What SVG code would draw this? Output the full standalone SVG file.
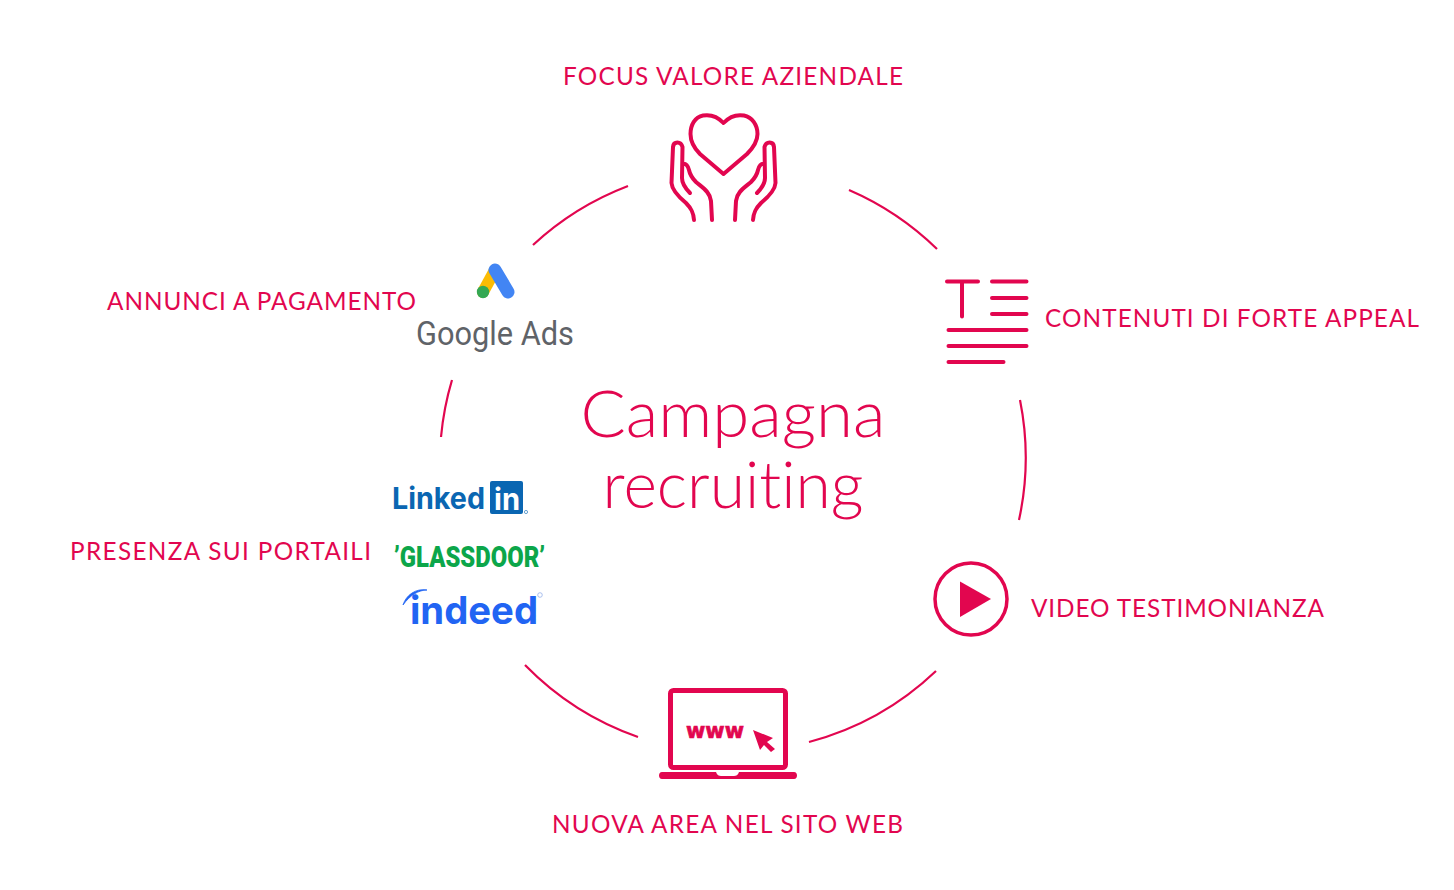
<svg xmlns="http://www.w3.org/2000/svg" width="1454" height="890" viewBox="0 0 1454 890">
<style>
.l{font-family:"Lato","Liberation Sans",sans-serif;font-size:24.3px;fill:#e2064f;font-variant-ligatures:none}
.t{font-family:"Lato","Liberation Sans",sans-serif;font-weight:300;font-size:65px;fill:#e2064f;font-variant-ligatures:none}
.s{fill:none;stroke:#e2064f;stroke-linecap:round;stroke-linejoin:round}
.f{fill:#e2064f}
</style>
<rect width="1454" height="890" fill="#fff"/>
<g id="connectors" fill="none" stroke="#e2064f" stroke-width="2.200">
<path d="M533 245A293 293 0 0 1 628 186"/>
<path d="M849 190A293 293 0 0 1 937 249"/>
<path d="M1020 400A293 293 0 0 1 1019 520"/>
<path d="M936 671A293 293 0 0 1 809 742"/>
<path d="M638 737A293 293 0 0 1 525 665"/>
<path d="M441 437A293 293 0 0 1 452 380"/>
</g>
<g id="center"><text class="t" x="733" y="437" text-anchor="middle" textLength="305" lengthAdjust="spacingAndGlyphs">Campagna</text>
<text class="t" x="733" y="508" text-anchor="middle" textLength="261" lengthAdjust="spacingAndGlyphs">recruiting</text></g>
<g id="focus">
<text class="l" x="563" y="85" textLength="340" lengthAdjust="spacing">FOCUS VALORE AZIENDALE</text>
<path class="s" stroke-width="4" d="M723.5 123C717 116 709 114.500 703 115.500C695 117 690.500 125 690.500 134C690.500 142 695 149 700 154L723.500 174L747 154C752 149 757.500 142 757.500 134C757.500 125 752 117 744 115.500C738 114.500 730 116 723.500 123Z"/>
<path class="s" stroke-width="4" d="M694 220C693.500 212 691 208 686 203C680 198 672 191 671.500 183L673 147C673.500 141 681 141 682.500 147L682 178C682 184 686 189 690 193M682.500 164C686 163 688 166 689 170C690 175 692 178 696 182C703 188 710 192 711 201L712 220"/>
<path class="s" stroke-width="4" d="M753 220C753.500 212 756 208 761 203C767 198 775 191 775.500 183L774 147C773.500 141 766 141 764.500 147L765 178C765 184 761 189 757 193M764.500 164C761 163 759 166 758 170C757 175 755 178 751 182C744 188 737 192 736 201L735 220"/>
</g>
<g id="contenuti">
<text class="l" x="1045" y="327" textLength="374" lengthAdjust="spacing">CONTENUTI DI FORTE APPEAL</text>
<path class="s" stroke-width="4" d="M947 281.500H978M962 281.500V316.500M992 281.500H1026.500M992 298H1026.500M992 314H1026.500M948.500 330H1026.500M948.500 346H1026.500M948.500 362H1003.500"/>
</g>
<g id="video">
<text class="l" x="1031" y="617" textLength="293" lengthAdjust="spacing">VIDEO TESTIMONIANZA</text>
<circle class="s" cx="971" cy="599" r="36" stroke-width="3.500"/>
<path class="f" d="M960 581.500V617L991 599Z"/>
</g>
<g id="sito">
<text class="l" x="552" y="833" textLength="351" lengthAdjust="spacing">NUOVA AREA NEL SITO WEB</text>
<rect x="670.500" y="690.500" width="115" height="77" rx="3" fill="none" stroke="#e2064f" stroke-width="5"/>
<path class="f" d="M662 772H716C717 775 719 776 721 776H734C736 776 738 775 739 772H794C798 772 798 779 794 779H662C658 779 658 772 662 772Z"/>
<text x="686" y="738" font-family="DejaVu Sans,sans-serif" font-weight="700" font-size="21" fill="#e2064f" stroke="#e2064f" stroke-width=".7" textLength="58" lengthAdjust="spacingAndGlyphs">www</text>
<path class="f" d="M753 730L773 738L767 742L775 749L771 752L764 745L760 750Z"/>
</g>
<g id="portali">
<text class="l" x="70" y="560" textLength="301" lengthAdjust="spacing">PRESENZA SUI PORTAILI</text>
<text x="392" y="508.500" font-family="Inter,sans-serif" font-weight="700" font-size="30" fill="#0a66b2" textLength="93" lengthAdjust="spacingAndGlyphs">Linked</text>
<rect x="490" y="481" width="33" height="33" rx="2" fill="#0a66b2"/>
<text x="494" y="510" font-family="Inter,sans-serif" font-weight="700" font-size="30" fill="#fff" textLength="26" lengthAdjust="spacingAndGlyphs">in</text>
<circle cx="526" cy="512" r="1.600" fill="none" stroke="#0a66b2" stroke-width=".6"/>
<text x="394" y="567" font-family="Roboto,sans-serif" font-weight="900" font-size="29.500" fill="#0ca64a" textLength="151" lengthAdjust="spacingAndGlyphs">’GLASSDOOR’</text>
<text x="410" y="624" font-family="Inter,sans-serif" font-weight="700" font-size="38" fill="#2164f3" textLength="128" lengthAdjust="spacingAndGlyphs">indeed</text>
<path d="M403 605C406 595 416 588 427 590C419 590 410 595 403 605Z" fill="#2164f3" stroke="#2164f3" stroke-width=".8"/>
<circle cx="540" cy="595" r="2.300" fill="none" stroke="#8aa8e8" stroke-width=".7"/>
</g>
<g id="annunci">
<text class="l" x="107" y="310" textLength="309" lengthAdjust="spacing">ANNUNCI A PAGAMENTO</text>
<path d="M495 270L483 292" fill="none" stroke="#fbbc04" stroke-width="12" stroke-linecap="round"/>
<path d="M495 270L508 292" fill="none" stroke="#4285f4" stroke-width="13" stroke-linecap="round"/>
<circle cx="483" cy="292" r="6.200" fill="#34a853"/>
<text x="416" y="345" font-family="Roboto,sans-serif" font-size="33" fill="#5f6368" textLength="158" lengthAdjust="spacingAndGlyphs">Google Ads</text>
</g>
</svg>
